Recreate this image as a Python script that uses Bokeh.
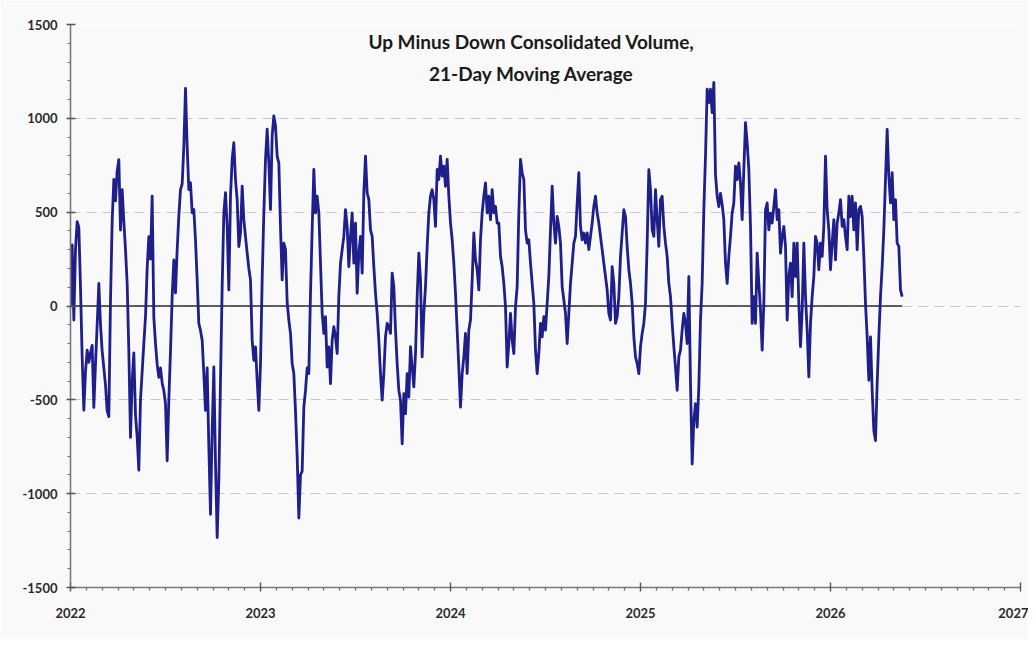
import numpy as np
from bokeh.plotting import figure
from bokeh.models import FixedTicker, Label
from bokeh.embed import file_html
from bokeh.resources import INLINE

# Up minus down consolidated volume, 21-day moving average
START_YEAR = 2022
SAMPLES_PER_YEAR = 114

values_2022 = [
    0, 325, -75, 300, 450, 420, 100, -270, -555, -350, -235, -300, -250, -210, -540, -310, -100, 120, -100, -240,
    -330, -420, -560, -590, 30, 450, 675, 560, 720, 780, 405, 620, 450, 300, 120, -240, -700, -400, -250, -580,
    -700, -875, -500, -350, -200, -57, 200, 370, 250, 585, -60, -200, -310, -380, -330, -410, -450, -520, -825, -500,
    -240, 50, 245, 70, 300, 480, 620, 650, 850, 1160, 852, 620, 657, 497, 514, 350, 139, -93, -130, -182,
    -360, -556, -330, -750, -1110, -665, -325, -840, -1234, -930, -396, 103, 496, 604, 424, 86, 585, 781, 870, 674,
    567, 317, 388, 638, 460, 370, 283, 200, 139, -182, -289, -218, -396, -556,
]
values_2023 = [
    -307, 139, 496, 781, 942, 763, 514, 906, 1013, 960, 799, 763, 420, 139, 335, 300, 20, -75, -146, -307,
    -360, -560, -800, -1130, -900, -880, -539, -450, -330, -360, 68, 406, 728, 496, 585, 496, 228, -39, -146, -57,
    -325, -218, -414, -182, -110, -164, -253, 50, 228, 300, 371, 514, 425, 210, 371, 496, 228, 442, 68, 282,
    371, 175, 602, 799, 602, 567, 406, 371, 210, 68, -39, -182, -360, -502, -360, -164, -93, -110, -146, 175,
    103, -128, -307, -450, -502, -734, -467, -574, -360, -485, -217, -325, -431, -253, 50, 282, 139, -271, -39, 103,
    317, 496, 585, 620, 567, 424, 728, 674, 799, 692, 745, 638, 781, 585,
]
values_2024 = [
    443, 353, 228, 68, -128, -325, -539, -360, -271, -146, -360, -128, -75, 139, 389, 246, 193, 86, 353, 496,
    585, 656, 496, 585, 460, 620, 496, 531, 442, 442, 264, 210, 121, -4, -325, -200, -39, -182, -253, -4,
    103, 496, 781, 710, 674, 406, 335, 353, 228, 121, 14, -235, -360, -253, -93, -164, -57, -128, 14, 157,
    406, 638, 442, 335, 477, 424, 335, 103, 32, -39, -200, -39, 121, 228, 335, 371, 549, 710, 424, 353,
    389, 335, 389, 300, 371, 442, 531, 585, 496, 442, 371, 300, 228, 157, 86, -39, -75, 210, 121, -93,
    -57, 50, 264, 389, 513, 477, 318, 193, 121, 14, -164, -271, -307, -360,
]
values_2025 = [
    -218, -146, -93, 14, 335, 727, 620, 406, 371, 620, 460, 318, 567, 585, 424, 335, 264, 121, 50, -93,
    -217, -324, -449, -271, -235, -128, -39, -93, -200, 157, -414, -842, -610, -520, -645, -431, -75, 121, 513, 799,
    1155, 1084, 1155, 1030, 1191, 700, 585, 530, 600, 540, 460, 228, 121, 264, 371, 496, 549, 745, 674, 763,
    656, 460, 727, 977, 870, 727, 424, -93, 50, -93, 282, 121, -22, -235, 14, 513, 549, 406, 495, 442,
    531, 620, 460, 513, 282, 371, 424, 318, -75, 157, 228, 50, 335, 157, 335, 14, -217, -22, 335, 50,
    -128, -378, -93, 50, 157, 371, 335, 193, 335, 264, 424, 799, 513, 406,
]
values_2026 = [
    193, 335, 460, 246, 442, 495, 567, 424, 460, 371, 300, 585, 477, 585, 406, 549, 300, 513, 531, 477,
    264, 14, -164, -396, -164, -449, -663, -717, -414, -164, 50, 210, 406, 674, 941, 690, 549, 710, 460, 567,
    335, 318, 86, 50,
]

year_ticks = [2022, 2023, 2024, 2025, 2026, 2027]
value_ticks = [-1500, -1000, -500, 0, 500, 1000, 1500]
value_tick_labels = ["-1500", "-1000", "-500", "0", "500", "1000", "1500"]
title_lines = ["Up Minus Down Consolidated Volume,", "21-Day Moving Average"]

values = values_2022 + values_2023 + values_2024 + values_2025 + values_2026
t = START_YEAR + np.arange(len(values)) / SAMPLES_PER_YEAR

month_ticks = [y + m / 12 for y in year_ticks[:-1] for m in range(1, 12)]
minor_value_ticks = [v for v in range(-1500, 1501, 100) if v % 500 != 0]

BG = "#f9f9f9"
FONT = "Lato"

p = figure(
    width=1028, height=639,
    x_range=(year_ticks[0], year_ticks[-1]), y_range=(value_ticks[0], value_ticks[-1]),
    output_backend="svg", toolbar_location=None,
    min_border_left=70, min_border_right=8, min_border_top=24, min_border_bottom=52,
    background_fill_color=BG, border_fill_color=BG,
)
p.outline_line_color = None

p.xaxis.ticker = FixedTicker(ticks=year_ticks, minor_ticks=month_ticks)
p.yaxis.ticker = FixedTicker(ticks=value_ticks, minor_ticks=minor_value_ticks)
p.yaxis.major_label_overrides = {v: s for v, s in zip(value_ticks, value_tick_labels)}
p.xaxis.major_label_overrides = {y: str(y) for y in year_ticks}

p.xgrid.visible = False
p.ygrid.grid_line_color = "#c6c6d6"
p.ygrid.grid_line_dash = "10 6"
p.ygrid.grid_line_width = 1.2

for ax in (p.xaxis[0], p.yaxis[0]):
    ax.axis_line_color = "#7a7a7a"
    ax.axis_line_width = 1.6
    ax.major_tick_line_color = "#555555"
    ax.major_tick_line_width = 1.4
    ax.major_tick_in = 5
    ax.major_tick_out = 4
    ax.minor_tick_line_color = "#6a6a6a"
    ax.minor_tick_line_width = 1.2
    ax.minor_tick_in = 0
    ax.minor_tick_out = 3
    ax.major_label_text_font = FONT
    ax.major_label_text_font_style = "bold"
    ax.major_label_text_font_size = "13px"
    ax.major_label_text_color = "#2a2a2a"

p.yaxis.major_label_standoff = 9
p.xaxis.major_label_standoff = 16

# zero line spanning the data period
p.line([t[0], t[-1]], [0, 0], line_color="#2e2e2e", line_width=1.6)

p.line(t, values, line_color="#1f1f8c", line_width=2.8, line_join="round")

title_x = 2024.426
for i, txt in enumerate(title_lines):
    p.add_layout(Label(
        x=title_x, y=1412 - i * 175, text=txt,
        text_align="center", text_baseline="middle",
        text_font=FONT, text_font_style="bold", text_font_size="19px",
        text_color="#1a1a1a",
    ))

open("out.html", "w").write(file_html(p, INLINE))
